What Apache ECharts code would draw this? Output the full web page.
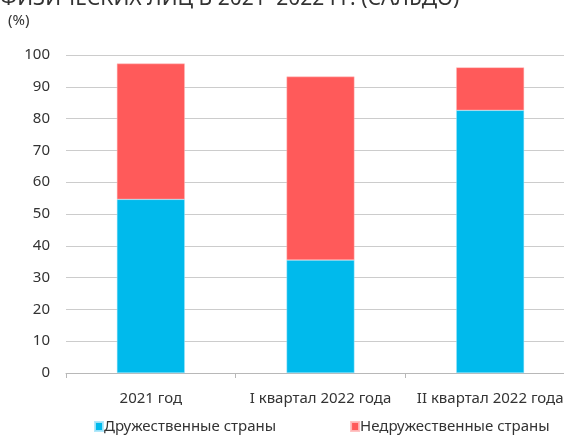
<!DOCTYPE html>
<html>
<head>
<meta charset="utf-8">
<script src="https://cdn.jsdelivr.net/npm/echarts@6/dist/echarts.min.js"></script>
<style>
  html, body { margin: 0; padding: 0; background: #fff; overflow: hidden; }
  /* plot area runs a little past the right edge of the page */
  #chart { width: 575px; height: 435px; }
</style>
</head>
<body>
<div id="chart"></div>
<script>
// Периоды
const categories = ['2021 год', 'I квартал 2022 года', 'II квартал 2022 года'];
// Доля переводов, %
const friendly = [54.6, 35.5, 82.6];
const unfriendly = [42.7, 57.7, 13.5];
const seriesNames = ['Дружественные страны', 'Недружественные страны'];
const yTicks = [0, 10, 20, 30, 40, 50, 60, 70, 80, 90, 100];

const FONT = 'Noto Sans';
const TEXT = '#333333';

const chart = echarts.init(document.getElementById('chart'), null, { renderer: 'canvas' });

chart.setOption({
  animation: false,
  backgroundColor: '#ffffff',
  textStyle: { fontFamily: FONT, color: TEXT },
  graphic: [
    {
      type: 'text', left: 0, top: -11,
      style: { text: 'ФИЗИЧЕСКИХ ЛИЦ В 2021–2022 ГГ. (САЛЬДО)', font: '21px "Noto Sans"', fill: TEXT }
    },
    {
      type: 'text', left: 8, top: 13,
      style: { text: '(%)', font: '15px "Noto Sans"', fill: TEXT }
    }
  ],
  legend: {
    data: seriesNames,
    left: 89, top: 414,
    itemWidth: 8, itemHeight: 9, itemGap: 74,
    icon: 'rect',
    textStyle: { fontFamily: FONT, fontSize: 15, color: TEXT, padding: [0, 0, 0, -4] }
  },
  grid: { left: 66, top: 55, right: 0, bottom: 62, containLabel: false },
  xAxis: {
    type: 'category',
    data: categories,
    axisLine: { show: true, lineStyle: { color: '#b8b8b8', width: 1 } },
    axisTick: { show: true, length: 5, lineStyle: { color: '#b8b8b8' } },
    axisLabel: { interval: 0, fontFamily: FONT, fontSize: 15, color: TEXT, margin: 18 }
  },
  yAxis: {
    type: 'value',
    min: yTicks[0], max: yTicks[yTicks.length - 1], interval: 10,
    axisLine: { show: false },
    axisTick: { show: false },
    axisLabel: { fontFamily: FONT, fontSize: 15, color: TEXT, margin: 16 },
    splitLine: { lineStyle: { color: '#cccccc', width: 1 } }
  },
  series: [
    {
      name: seriesNames[0], type: 'bar', stack: 'total', data: friendly,
      barWidth: '40%',
      itemStyle: { color: '#00BAEC', borderColor: 'rgba(170,230,250,0.9)', borderWidth: 0.5 }
    },
    {
      name: seriesNames[1], type: 'bar', stack: 'total', data: unfriendly,
      barWidth: '40%',
      itemStyle: { color: '#FF5A5A', borderColor: 'rgba(255,190,190,0.9)', borderWidth: 0.5 }
    }
  ]
});
</script>
</body>
</html>
